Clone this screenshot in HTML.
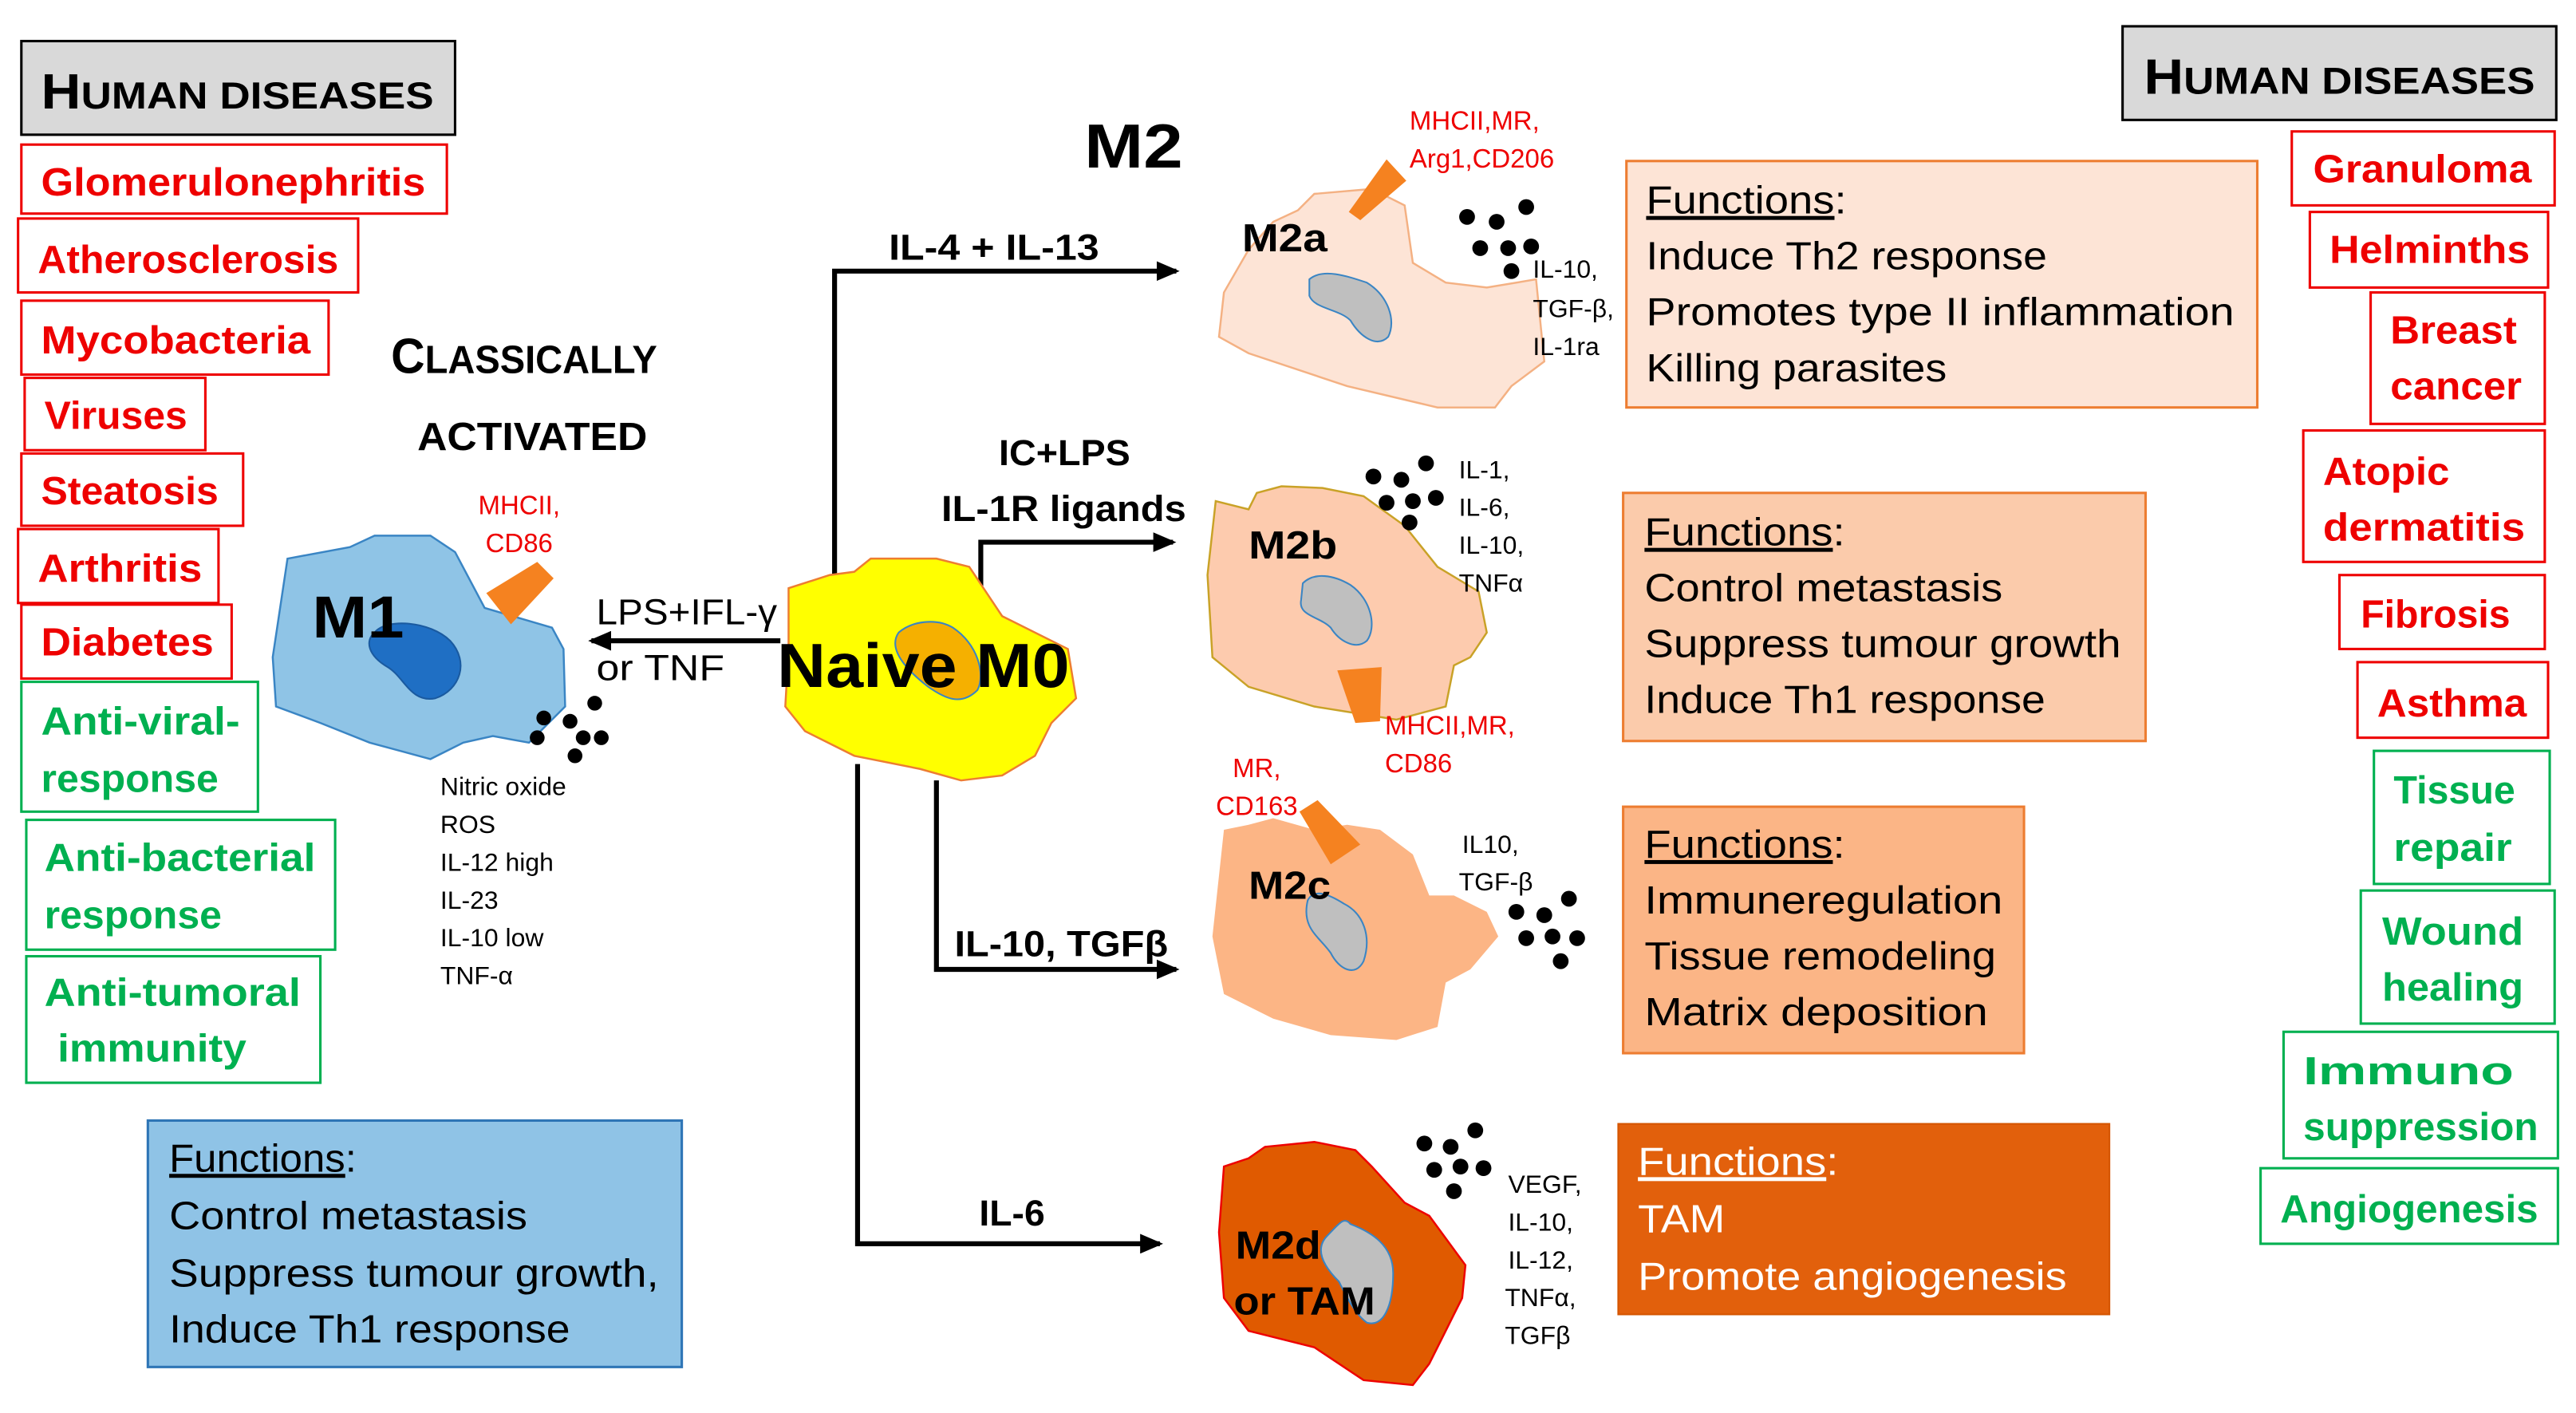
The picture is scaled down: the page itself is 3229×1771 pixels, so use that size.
<!DOCTYPE html>
<html><head><meta charset="utf-8"><style>html,body{margin:0;padding:0;background:#fff}svg{display:block}text{font-family:"Liberation Sans",sans-serif}</style></head><body>
<svg width="3229" height="1771" viewBox="0 0 1568 860" xmlns="http://www.w3.org/2000/svg">
<defs><marker id="ar" markerWidth="8" markerHeight="8" refX="6" refY="4" orient="auto" markerUnits="userSpaceOnUse"><path d="M0,0 L8,4 L0,8 Z" fill="#000"/></marker>
<marker id="ar2" markerWidth="14" markerHeight="12" refX="12" refY="6" orient="auto" markerUnits="userSpaceOnUse"><path d="M0,0 L14,6 L0,12 Z" fill="#000"/></marker></defs>
<rect width="1568" height="860" fill="#fff"/>

<!-- Left header -->
<rect x="13" y="25" width="264" height="57" fill="#d9d9d9" stroke="#000" stroke-width="1.5"/>
<text x="25" y="66" font-weight="bold" textLength="239" lengthAdjust="spacingAndGlyphs"><tspan font-size="30">H</tspan><tspan font-size="23">UMAN DISEASES</tspan></text>

<g fill="none" stroke="#e00" stroke-width="1.5">
<rect x="13" y="88" width="259" height="42"/><rect x="11" y="133" width="207" height="45"/><rect x="13" y="183" width="187" height="45"/><rect x="15" y="230" width="110" height="44"/><rect x="13" y="276" width="135" height="44"/><rect x="11" y="322" width="122" height="45"/><rect x="13" y="368" width="128" height="45"/>
</g>
<g fill="none" stroke="#00b050" stroke-width="1.5">
<rect x="13" y="415" width="144" height="79"/><rect x="16" y="499" width="188" height="79"/><rect x="16" y="582" width="179" height="77"/>
</g>
<g font-size="24" font-weight="bold" fill="#e00" lengthAdjust="spacingAndGlyphs">
<text x="25" y="119" textLength="234" lengthAdjust="spacingAndGlyphs">Glomerulonephritis</text>
<text x="23" y="166" textLength="183" lengthAdjust="spacingAndGlyphs">Atherosclerosis</text>
<text x="25" y="215" textLength="164" lengthAdjust="spacingAndGlyphs">Mycobacteria</text>
<text x="27" y="261" textLength="87" lengthAdjust="spacingAndGlyphs">Viruses</text>
<text x="25" y="307" textLength="108" lengthAdjust="spacingAndGlyphs">Steatosis</text>
<text x="23" y="354" textLength="100" lengthAdjust="spacingAndGlyphs">Arthritis</text>
<text x="25" y="399" textLength="105" lengthAdjust="spacingAndGlyphs">Diabetes</text>
</g>
<g font-size="24" font-weight="bold" fill="#00b050">
<text x="25" y="447" textLength="121" lengthAdjust="spacingAndGlyphs">Anti-viral-</text>
<text x="25" y="482" textLength="108" lengthAdjust="spacingAndGlyphs">response</text>
<text x="27" y="530" textLength="165" lengthAdjust="spacingAndGlyphs">Anti-bacterial</text>
<text x="27" y="565" textLength="108" lengthAdjust="spacingAndGlyphs">response</text>
<text x="27" y="612" textLength="156" lengthAdjust="spacingAndGlyphs">Anti-tumoral</text>
<text x="35" y="646" textLength="115" lengthAdjust="spacingAndGlyphs">immunity</text>
</g>

<!-- Blue functions box -->
<rect x="90" y="682" width="325" height="150" fill="#8fc3e6" stroke="#2e75b6" stroke-width="1.5"/>
<g font-size="24" fill="#000">
<text x="103" y="713" textLength="114" lengthAdjust="spacingAndGlyphs"><tspan text-decoration="underline">Functions</tspan>:</text>
<text x="103" y="748" textLength="218" lengthAdjust="spacingAndGlyphs">Control metastasis</text>
<text x="103" y="783" textLength="298" lengthAdjust="spacingAndGlyphs">Suppress tumour growth,</text>
<text x="103" y="817" textLength="244" lengthAdjust="spacingAndGlyphs">Induce Th1 response</text>
</g>

<!-- Right header -->
<rect x="1292" y="16" width="264" height="57" fill="#d9d9d9" stroke="#000" stroke-width="1.5"/>
<text x="1305" y="57" font-weight="bold" textLength="238" lengthAdjust="spacingAndGlyphs"><tspan font-size="30">H</tspan><tspan font-size="23">UMAN DISEASES</tspan></text>
<g fill="none" stroke="#e00" stroke-width="1.5">
<rect x="1395" y="80" width="160" height="45"/><rect x="1406" y="129" width="145" height="46"/><rect x="1443" y="178" width="106" height="80"/><rect x="1402" y="262" width="147" height="80"/><rect x="1424" y="350" width="125" height="45"/><rect x="1435" y="403" width="116" height="46"/>
</g>
<g fill="none" stroke="#00b050" stroke-width="1.5">
<rect x="1445" y="457" width="107" height="81"/><rect x="1437" y="542" width="118" height="81"/><rect x="1390" y="628" width="167" height="77"/><rect x="1376" y="711" width="181" height="46"/>
</g>
<g font-size="24" font-weight="bold" fill="#e00">
<text x="1408" y="111" textLength="133" lengthAdjust="spacingAndGlyphs">Granuloma</text>
<text x="1418" y="160" textLength="122" lengthAdjust="spacingAndGlyphs">Helminths</text>
<text x="1455" y="209" textLength="77" lengthAdjust="spacingAndGlyphs">Breast</text>
<text x="1455" y="243" textLength="80" lengthAdjust="spacingAndGlyphs">cancer</text>
<text x="1414" y="295" textLength="77" lengthAdjust="spacingAndGlyphs">Atopic</text>
<text x="1414" y="329" textLength="123" lengthAdjust="spacingAndGlyphs">dermatitis</text>
<text x="1437" y="382" textLength="91" lengthAdjust="spacingAndGlyphs">Fibrosis</text>
<text x="1447" y="436" textLength="91" lengthAdjust="spacingAndGlyphs">Asthma</text>
</g>
<g font-size="24" font-weight="bold" fill="#00b050">
<text x="1457" y="489" textLength="74" lengthAdjust="spacingAndGlyphs">Tissue</text>
<text x="1457" y="524" textLength="72" lengthAdjust="spacingAndGlyphs">repair</text>
<text x="1450" y="575" textLength="86" lengthAdjust="spacingAndGlyphs">Wound</text>
<text x="1450" y="609" textLength="86" lengthAdjust="spacingAndGlyphs">healing</text>
<text x="1402" y="660" textLength="128" lengthAdjust="spacingAndGlyphs">Immuno</text>
<text x="1402" y="694" textLength="143" lengthAdjust="spacingAndGlyphs">suppression</text>
<text x="1388" y="744" textLength="157" lengthAdjust="spacingAndGlyphs">Angiogenesis</text>
</g>

<!-- Titles -->
<text x="238" y="227" font-weight="bold" textLength="162" lengthAdjust="spacingAndGlyphs"><tspan font-size="30">C</tspan><tspan font-size="24">LASSICALLY</tspan></text>
<text x="254" y="274" font-weight="bold" font-size="24" textLength="140" lengthAdjust="spacingAndGlyphs">ACTIVATED</text>
<text x="660" y="102" font-weight="bold" font-size="38" textLength="60" lengthAdjust="spacingAndGlyphs">M2</text>

<!-- Connectors -->
<g stroke="#000" stroke-width="3" fill="none">
<polyline points="508,357 508,165 716,165" marker-end="url(#ar2)"/>
<polyline points="597,368 597,330 714,330" marker-end="url(#ar2)"/>
<polyline points="570,475 570,590 716,590" marker-end="url(#ar2)"/>
<polyline points="522,465 522,757 706,757" marker-end="url(#ar2)"/>
<line x1="475" y1="390" x2="360" y2="390" marker-end="url(#ar2)"/>
</g>
<g font-size="22" font-weight="bold">
<text x="541" y="158" textLength="128" lengthAdjust="spacingAndGlyphs">IL-4 + IL-13</text>
<text x="608" y="283" textLength="80" lengthAdjust="spacingAndGlyphs">IC+LPS</text>
<text x="573" y="317" textLength="149" lengthAdjust="spacingAndGlyphs">IL-1R ligands</text>
<text x="581" y="582" textLength="130" lengthAdjust="spacingAndGlyphs">IL-10, TGFβ</text>
<text x="596" y="746" textLength="40" lengthAdjust="spacingAndGlyphs">IL-6</text>
</g>
<text x="363" y="380" font-size="22" textLength="110" lengthAdjust="spacingAndGlyphs">LPS+IFL-γ</text>
<text x="363" y="414" font-size="22" textLength="78" lengthAdjust="spacingAndGlyphs">or TNF</text>

<!-- M1 cell -->
<path d="M175,340 L213,333 L228,326 L262,326 L277,336 L295,370 L336,382 L343,395 L344,430 L322,452 L300,448 L282,452 L262,462 L225,452 L195,440 L168,430 L166,400 Z" fill="#8fc4e6" stroke="#3a85c4" stroke-width="1.2"/>
<path d="M228,385 C235,376 262,378 274,390 C286,403 280,420 265,425 C250,428 246,412 236,406 C224,399 222,390 228,385 Z" fill="#1f6fc4" stroke="#1a5aa0"/>
<polygon points="296,361 327,342 337,352 311,380" fill="#f58220"/>
<text x="190" y="388" font-size="36" font-weight="bold" textLength="56" lengthAdjust="spacingAndGlyphs">M1</text>
<g font-size="16" fill="#e00" text-anchor="middle"><text x="316" y="313">MHCII,</text><text x="316" y="336">CD86</text></g>
<g fill="#000"><circle cx="362" cy="428" r="4.5"/><circle cx="331" cy="437" r="4.5"/><circle cx="347" cy="439" r="4.5"/><circle cx="327" cy="449" r="4.5"/><circle cx="355" cy="449" r="4.5"/><circle cx="366" cy="449" r="4.5"/><circle cx="350" cy="460" r="4.5"/></g>
<g font-size="15.5"><text x="268" y="484">Nitric oxide</text><text x="268" y="507">ROS</text><text x="268" y="530">IL-12 high</text><text x="268" y="553">IL-23</text><text x="268" y="576">IL-10 low</text><text x="268" y="599">TNF-α</text></g>

<!-- Naive M0 -->
<path d="M480,358 L505,350 L520,348 L530,340 L570,340 L590,345 L610,375 L650,395 L655,425 L640,440 L630,460 L610,472 L585,475 L560,468 L520,460 L490,445 L478,430 L480,395 Z" fill="#ffff00" stroke="#ed7d31" stroke-width="1.2"/>
<path d="M547,385 C555,378 570,376 580,382 C595,392 600,410 595,420 C585,430 575,425 565,418 C552,408 540,395 547,385 Z" fill="#f5b000" stroke="#3a85c4" stroke-width="1"/>
<text x="562" y="418" font-size="38" font-weight="bold" text-anchor="middle" textLength="178" lengthAdjust="spacingAndGlyphs">Naive M0</text>

<!-- M2a -->
<path d="M745,178 L760,152 L775,135 L790,128 L800,118 L835,115 L855,125 L860,160 L880,172 L905,175 L935,170 L940,220 L920,235 L910,248 L875,248 L820,235 L760,215 L742,205 Z" fill="#fde4d6" stroke="#f4b183" stroke-width="1.2"/>
<path d="M797,170 C805,163 820,168 832,172 C845,180 850,195 845,205 C838,212 828,205 822,195 C815,188 800,188 797,180 Z" fill="#bfbfbf" stroke="#3a85c4"/>
<polygon points="821,129 844,97 856,110 828,134" fill="#f58220"/>
<text x="756" y="153" font-size="24" font-weight="bold" textLength="52" lengthAdjust="spacingAndGlyphs">M2a</text>
<g font-size="16" fill="#e00"><text x="858" y="79">MHCII,MR,</text><text x="858" y="102">Arg1,CD206</text></g>
<g fill="#000"><circle cx="929" cy="126" r="4.8"/><circle cx="893" cy="132" r="4.8"/><circle cx="911" cy="135" r="4.8"/><circle cx="901" cy="151" r="4.8"/><circle cx="918" cy="151" r="4.8"/><circle cx="932" cy="150" r="4.8"/><circle cx="920" cy="165" r="4.8"/></g>
<g font-size="15.5"><text x="933" y="169">IL-10,</text><text x="933" y="193">TGF-β,</text><text x="933" y="216">IL-1ra</text></g>
<rect x="990" y="98" width="384" height="150" fill="#fde4d6" stroke="#ed7d31" stroke-width="1.5"/>
<g font-size="24"><text x="1002" y="130" textLength="122" lengthAdjust="spacingAndGlyphs"><tspan text-decoration="underline">Functions</tspan>:</text>
<text x="1002" y="164" textLength="244" lengthAdjust="spacingAndGlyphs">Induce Th2 response</text>
<text x="1002" y="198" textLength="358" lengthAdjust="spacingAndGlyphs">Promotes type II inflammation</text>
<text x="1002" y="232" textLength="183" lengthAdjust="spacingAndGlyphs">Killing parasites</text></g>

<!-- M2b -->
<path d="M740,305 L760,310 L765,300 L780,296 L805,297 L830,302 L855,320 L875,345 L900,360 L905,385 L895,400 L885,405 L880,430 L850,438 L800,430 L760,418 L738,400 L735,350 Z" fill="#fdcbae" stroke="#c9a227" stroke-width="1.2"/>
<path d="M793,355 C800,348 812,350 822,356 C835,365 838,382 832,390 C825,396 815,390 810,382 C803,375 790,375 792,365 Z" fill="#bfbfbf" stroke="#3a85c4"/>
<polygon points="814,408 841,406 840,439 825,440" fill="#f58220"/>
<text x="760" y="340" font-size="24" font-weight="bold" textLength="54" lengthAdjust="spacingAndGlyphs">M2b</text>
<g font-size="16" fill="#e00"><text x="843" y="447">MHCII,MR,</text><text x="843" y="470">CD86</text></g>
<g fill="#000"><circle cx="868" cy="282" r="4.8"/><circle cx="836" cy="290" r="4.8"/><circle cx="853" cy="292" r="4.8"/><circle cx="844" cy="306" r="4.8"/><circle cx="860" cy="305" r="4.8"/><circle cx="874" cy="303" r="4.8"/><circle cx="858" cy="318" r="4.8"/></g>
<g font-size="15.5"><text x="888" y="291">IL-1,</text><text x="888" y="314">IL-6,</text><text x="888" y="337">IL-10,</text><text x="888" y="360">TNFα</text></g>
<rect x="988" y="300" width="318" height="151" fill="#fbcbab" stroke="#ed7d31" stroke-width="1.5"/>
<g font-size="24"><text x="1001" y="332" textLength="122" lengthAdjust="spacingAndGlyphs"><tspan text-decoration="underline">Functions</tspan>:</text>
<text x="1001" y="366" textLength="218" lengthAdjust="spacingAndGlyphs">Control metastasis</text>
<text x="1001" y="400" textLength="290" lengthAdjust="spacingAndGlyphs">Suppress tumour growth</text>
<text x="1001" y="434" textLength="244" lengthAdjust="spacingAndGlyphs">Induce Th1 response</text></g>

<!-- M2c -->
<path d="M745,505 L760,502 L775,498 L800,505 L820,502 L840,505 L860,520 L870,545 L885,545 L905,555 L912,570 L895,590 L880,598 L875,625 L850,633 L810,630 L775,620 L745,605 L738,570 Z" fill="#fcb585"/>
<path d="M796,548 C800,540 810,545 818,550 C830,556 835,570 830,585 C825,595 815,590 810,580 C803,570 792,565 796,548 Z" fill="#bfbfbf" stroke="#3a85c4"/>
<polygon points="791,494 802,487 828,514 810,526" fill="#f58220"/>
<text x="760" y="547" font-size="24" font-weight="bold" textLength="50" lengthAdjust="spacingAndGlyphs">M2c</text>
<g font-size="16" fill="#e00" text-anchor="middle"><text x="765" y="473">MR,</text><text x="765" y="496">CD163</text></g>
<g fill="#000"><circle cx="955" cy="547" r="4.8"/><circle cx="923" cy="555" r="4.8"/><circle cx="940" cy="557" r="4.8"/><circle cx="929" cy="571" r="4.8"/><circle cx="945" cy="570" r="4.8"/><circle cx="960" cy="571" r="4.8"/><circle cx="950" cy="585" r="4.8"/></g>
<g font-size="15.5"><text x="890" y="519">IL10,</text><text x="888" y="542">TGF-β</text></g>
<rect x="988" y="491" width="244" height="150" fill="#fbb586" stroke="#ed7d31" stroke-width="1.5"/>
<g font-size="24"><text x="1001" y="522" textLength="122" lengthAdjust="spacingAndGlyphs"><tspan text-decoration="underline">Functions</tspan>:</text>
<text x="1001" y="556" textLength="218" lengthAdjust="spacingAndGlyphs">Immuneregulation</text>
<text x="1001" y="590" textLength="214" lengthAdjust="spacingAndGlyphs">Tissue remodeling</text>
<text x="1001" y="624" textLength="209" lengthAdjust="spacingAndGlyphs">Matrix deposition</text></g>

<!-- M2d -->
<path d="M745,710 L760,705 L770,698 L800,695 L825,700 L835,710 L855,732 L870,740 L892,770 L890,790 L880,810 L870,830 L860,843 L830,840 L800,820 L760,810 L745,790 L742,750 Z" fill="#e05a00" stroke="#e00" stroke-width="1.2"/>
<path d="M808,752 C815,745 818,740 822,745 C835,750 848,758 848,775 C848,795 842,808 832,805 C825,800 820,790 815,780 C805,770 800,760 808,752 Z" fill="#bfbfbf" stroke="#3a85c4"/>
<g font-size="24" font-weight="bold"><text x="752" y="766" textLength="52" lengthAdjust="spacingAndGlyphs">M2d</text><text x="751" y="800" textLength="86" lengthAdjust="spacingAndGlyphs">or TAM</text></g>
<g fill="#000"><circle cx="898" cy="688" r="4.8"/><circle cx="867" cy="696" r="4.8"/><circle cx="883" cy="698" r="4.8"/><circle cx="873" cy="712" r="4.8"/><circle cx="889" cy="710" r="4.8"/><circle cx="903" cy="711" r="4.8"/><circle cx="885" cy="725" r="4.8"/></g>
<g font-size="15.5"><text x="918" y="726">VEGF,</text><text x="918" y="749">IL-10,</text><text x="918" y="772">IL-12,</text><text x="916" y="795">TNFα,</text><text x="916" y="818">TGFβ</text></g>
<rect x="985" y="684" width="299" height="116" fill="#e2600c" stroke="#d45500" stroke-width="1"/>
<g font-size="24" fill="#fff"><text x="997" y="715" textLength="122" lengthAdjust="spacingAndGlyphs"><tspan text-decoration="underline">Functions</tspan>:</text>
<text x="997" y="750" textLength="53" lengthAdjust="spacingAndGlyphs">TAM</text>
<text x="997" y="785" textLength="261" lengthAdjust="spacingAndGlyphs">Promote angiogenesis</text></g>
</svg>
</body></html>
